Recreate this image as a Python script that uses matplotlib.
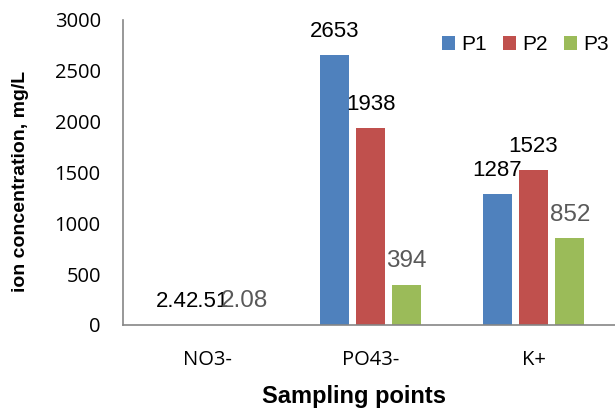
import matplotlib
matplotlib.use("Agg")
import matplotlib.pyplot as plt
import numpy as np

# ion concentrations at the three sampling points
ions = ["NO3-", "PO43-", "K+"]
series = ["P1", "P2", "P3"]
p1 = [2.4, 2653, 1287]
p2 = [2.51, 1938, 1523]
p3 = [2.08, 394, 852]
value_labels = [["2.4", "2653", "1287"], ["2.51", "1938", "1523"], ["2.08", "394", "852"]]
colors = ["#4F81BD", "#C0504D", "#9BBB59"]
yticks = [0, 500, 1000, 1500, 2000, 2500, 3000]

plt.rcParams['font.family'] = ['Liberation Sans', 'DejaVu Sans']

fig = plt.figure(figsize=(6.15, 4.09), dpi=100)
ax = fig.add_axes([0.2, 0.2054, 0.8, 0.7466])

x = np.arange(len(ions))
w = 0.176
step = 0.222
for i, vals in enumerate([p1, p2, p3]):
    xs = x + (i - 1) * step
    ax.bar(xs, vals, width=w, color=colors[i], label=series[i])
    # value labels above the bars, P3 in grey and a bit bigger
    for xv, v, t in zip(xs, vals, value_labels[i]):
        if i == 2:
            ax.annotate(t, (xv, v), xytext=(0, 9), textcoords="offset points",
                        ha="center", va="bottom", fontsize=17.5, color="#595959")
        else:
            ax.annotate(t, (xv, v), xytext=(0, 9.5), textcoords="offset points",
                        ha="center", va="bottom", fontsize=16, color="black")

ax.set_xlim(-0.52, 2.5)
ax.set_ylim(0, 3000)
ax.set_yticks(yticks)
ax.set_xticks(x)
ax.set_xticklabels(ions)
ax.tick_params(axis="y", length=0, pad=16)
ax.tick_params(axis="x", length=0, pad=18)
for lab in ax.get_xticklabels() + ax.get_yticklabels():
    lab.set_family(["Open Sans", "DejaVu Sans"])
    lab.set_fontsize(14.5)

for s in ["top", "right"]:
    ax.spines[s].set_visible(False)
for s in ["left", "bottom"]:
    ax.spines[s].set_color("#868686")
    ax.spines[s].set_linewidth(1.2)

ax.set_ylabel("ion concentration, mg/L", fontsize=14, fontweight="bold")
ax.yaxis.set_label_coords(-0.192, 0.47)
ax.set_xlabel("Sampling points", fontsize=17, fontweight="bold")
ax.xaxis.set_label_coords(0.47, -0.195)

ax.legend(loc="upper right", bbox_to_anchor=(1.025, 1.01), ncol=3, frameon=False,
          fontsize=15, handlelength=0.6, handleheight=0.6, handletextpad=0.3,
          columnspacing=0.8)

fig.savefig("out.png", dpi=100)
